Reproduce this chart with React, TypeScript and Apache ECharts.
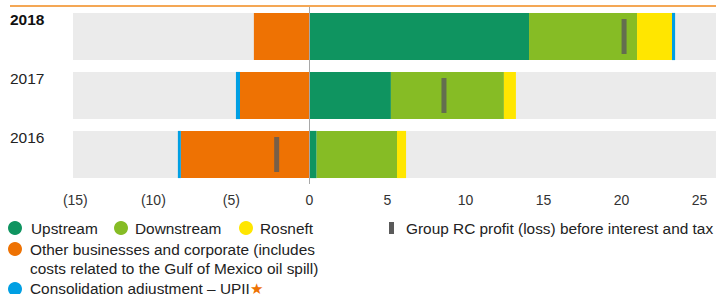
import React, { useEffect, useRef } from 'react';
import * as echarts from 'echarts';

const years = ['2018', '2017', '2016'];
const upstream = [14.07, 5.22, 0.46];
const downstream = [6.92, 7.24, 5.15];
const rosneft = [2.24, 0.77, 0.58];
const otherCorp = [-3.56, -4.45, -8.24];
const consolidation = [0.2, -0.26, -0.19];
const rcProfit = [20.16, 8.62, -2.1];
const tickValues = [-15, -10, -5, 0, 5, 10, 15, 20, 25];

const C = {
  up: '#0f9460',
  down: '#86bc25',
  ros: '#ffe600',
  other: '#ee7203',
  cons: '#009fe3',
  marker: '#5a5a5a',
  bg: '#ebebeb',
  zero: '#a8a8a8',
  top: '#f08a1c',
};

const FONT = 'Liberation Sans, Arial, sans-serif';
const LF = 15.4;

export default function App() {
  const ref = useRef<HTMLDivElement>(null);
  useEffect(() => {
    document.body.style.margin = '0';
    const chart = echarts.init(ref.current!, null, { renderer: 'svg' });
    const legendText = (x: number, y: number, text: string, extra: any = {}) => ({
      type: 'text',
      x,
      y,
      style: { text, fill: '#222', font: `${LF}px ${FONT}`, textVerticalAlign: 'middle', ...extra },
    });
    const dot = (x: number, y: number, fill: string) => ({
      type: 'circle',
      shape: { cx: x, cy: y, r: 7 },
      style: { fill },
    });
    const barBase = { type: 'bar', stack: 'total', barCategoryGap: '20%' };
    chart.setOption({
      animation: false,
      grid: { left: 73, right: 0, top: 7, bottom: 110, containLabel: false },
      xAxis: {
        type: 'value',
        min: -15.15,
        max: 26.05,
        axisLine: { show: false },
        axisTick: { show: false },
        splitLine: { show: false },
        axisLabel: {
          customValues: tickValues,
          margin: 9,
          color: '#333',
          fontSize: 14,
          fontFamily: FONT,
          formatter: (v: number) => (v < 0 ? `(${-v})` : `${v}`),
        },
      },
      yAxis: {
        type: 'category',
        data: years,
        inverse: true,
        axisLine: { show: false },
        axisTick: { show: false },
        axisLabel: {
          align: 'left',
          margin: 63,
          padding: [0, 0, 35, 0],
          fontSize: 15.5,
          fontFamily: FONT,
          color: '#222',
          formatter: (v: string, i: number) => (i === 0 ? `{b|${v}}` : v),
          rich: { b: { fontWeight: 'bold', fontSize: 15.5, fontFamily: FONT, color: '#111' } },
        },
      },
      series: [
        {
          ...barBase,
          name: 'Upstream',
          data: upstream,
          itemStyle: { color: C.up },
          showBackground: true,
          backgroundStyle: { color: C.bg },
        },
        { ...barBase, name: 'Downstream', data: downstream, itemStyle: { color: C.down } },
        { ...barBase, name: 'Rosneft', data: rosneft, itemStyle: { color: C.ros } },
        { ...barBase, name: 'Other businesses and corporate', data: otherCorp, itemStyle: { color: C.other } },
        { ...barBase, name: 'Consolidation adjustment – UPII', data: consolidation, itemStyle: { color: C.cons } },
        {
          type: 'scatter',
          name: 'Group RC profit (loss) before interest and tax',
          data: rcProfit,
          symbol: 'rect',
          symbolSize: [5, 35],
          itemStyle: { color: C.marker },
          z: 5,
          markLine: {
            silent: true,
            symbol: 'none',
            label: { show: false },
            lineStyle: { color: C.zero, width: 1, type: 'solid' },
            data: [{ xAxis: 0 }],
          },
        },
      ],
      graphic: [
        { type: 'line', shape: { x1: 10, y1: 6, x2: 716, y2: 6 }, style: { stroke: C.top, lineWidth: 1.5 } },
        dot(15, 228, C.up),
        legendText(31, 228, 'Upstream'),
        dot(121, 228, C.down),
        legendText(135, 228, 'Downstream'),
        dot(246, 228, C.ros),
        legendText(260, 228, 'Rosneft'),
        { type: 'rect', shape: { x: 389, y: 222, width: 5, height: 12 }, style: { fill: C.marker } },
        legendText(406, 228, 'Group RC profit (loss) before interest and tax'),
        dot(15, 249, C.other),
        legendText(30, 249, 'Other businesses and corporate (includes'),
        legendText(30, 268, 'costs related to the Gulf of Mexico oil spill)'),
        dot(15, 289, C.cons),
        {
          type: 'text',
          x: 30,
          y: 288,
          style: {
            text: 'Consolidation adjustment – UPII{s|★}',
            fill: '#222',
            font: `${LF}px ${FONT}`,
            textVerticalAlign: 'middle',
            rich: { s: { fill: C.other, fontSize: LF, fontFamily: FONT } },
          },
        },
      ],
    });
    return () => chart.dispose();
  }, []);
  return <div ref={ref} style={{ width: 716, height: 294 }} />;
}
